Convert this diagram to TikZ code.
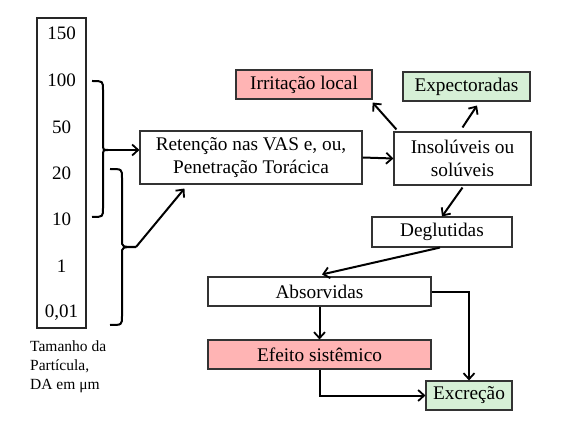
\documentclass[tikz,border=0pt]{standalone}
\usepackage{fontspec}
\setmainfont{Liberation Serif}
\usetikzlibrary{arrows.meta}
\begin{document}
\begin{tikzpicture}[x=1pt,y=-1pt,
  box/.style={draw=black!80,line width=1.1pt,inner sep=0pt,align=center,
    font=\fontsize{19.3}{22.5}\selectfont},
  pinkbox/.style={box,fill=pinkc},
  greenbox/.style={box,fill=greenc},
  num/.style={inner sep=0pt,font=\fontsize{19}{22}\selectfont},
  conn/.style={line width=2pt,-{Straight Barb[length=6pt,width=11pt,line width=1.8pt]}},
  brace/.style={line width=2pt}]
\definecolor{pinkc}{RGB}{255,180,180}
\definecolor{greenc}{RGB}{214,240,214}
\useasboundingbox[fill=white] (0,0) rectangle (580,435);

% scale
\node[draw=black!85,line width=1.2pt,minimum width=49pt,minimum height=310pt,inner sep=0pt] (scale) at (61.5,173) {};
\node[num] (n150) at (61.5,33) {150};
\node[num] (n100) at (61.5,80) {100};
\node[num] (n50) at (61.5,127) {50};
\node[num] (n20) at (61.5,173) {20};
\node[num] (n10) at (61.5,219) {10};
\node[num] (n1) at (61.5,266) {1};
\node[num] (n001) at (61.5,313) {0,01};
\node[align=left,anchor=north west,inner sep=0pt,font=\fontsize{15.5}{19}\selectfont] (cap) at (30,341) {Tamanho da\\Partícula,\\DA em μm};

% braces
\coordinate (b1) at (108,150);
\coordinate (b2) at (136,247);
\draw[brace] (92,81) .. controls (103,81) .. (103,90) -- (103,143) .. controls (103,150) .. (b1) .. controls (103,150) .. (103,157) -- (103,208) .. controls (103,217) .. (92,217);
\draw[brace] (110,169) .. controls (122,169) .. (122,178) -- (122,240) .. controls (122,247) .. (b2) .. controls (122,247) .. (122,254) -- (122,316) .. controls (122,325) .. (110,325);

% boxes
\node[box,minimum width=222pt,minimum height=53pt] (ret) at (251,157.5) {Retenção nas VAS e, ou,\\Penetração Torácica};
\node[box,minimum width=137pt,minimum height=53pt] (ins) at (462.5,158.5) {Insolúveis ou\\solúveis};
\node[pinkbox,minimum width=136pt,minimum height=29pt] (irr) at (304,84.5) {Irritação local};
\node[greenbox,minimum width=127pt,minimum height=29pt] (exp) at (466.5,86.5) {Expectoradas};
\node[box,minimum width=140pt,minimum height=30pt] (deg) at (442,232) {Deglutidas};
\node[box,minimum width=223pt,minimum height=29pt] (abs) at (319.5,291.5) {Absorvidas};
\node[pinkbox,minimum width=223pt,minimum height=29pt] (eff) at (319.5,354.5) {Efeito sistêmico};
\node[greenbox,minimum width=86pt,minimum height=29pt] (exc) at (469,395.5) {Excreção};

% connectors
\draw[conn] (b1) -- (b1 -| ret.west);
\draw[conn] (b2) -- ([xshift=45pt,yshift=-4pt]ret.south west);
\draw[conn] (ret.east) -- (ins.west);
\draw[conn] ([xshift=3pt,yshift=2pt]ins.north west) -- ([yshift=-3pt]irr.south east);
\draw[conn] ([yshift=4pt]ins.north) -- ([xshift=10.5pt,yshift=-4pt]exp.south);
\draw[conn] ([yshift=-2pt]ins.south) -- (deg.north);
\draw[conn] ([xshift=-2pt]deg.south) -- ([xshift=2.5pt,yshift=2pt]abs.north);
\draw[conn] (abs.south) -- (eff.north);
\draw[conn] (abs.east) -| (exc.north);
\draw[conn] (eff.south) |- (exc.west);
\end{tikzpicture}
\end{document}
